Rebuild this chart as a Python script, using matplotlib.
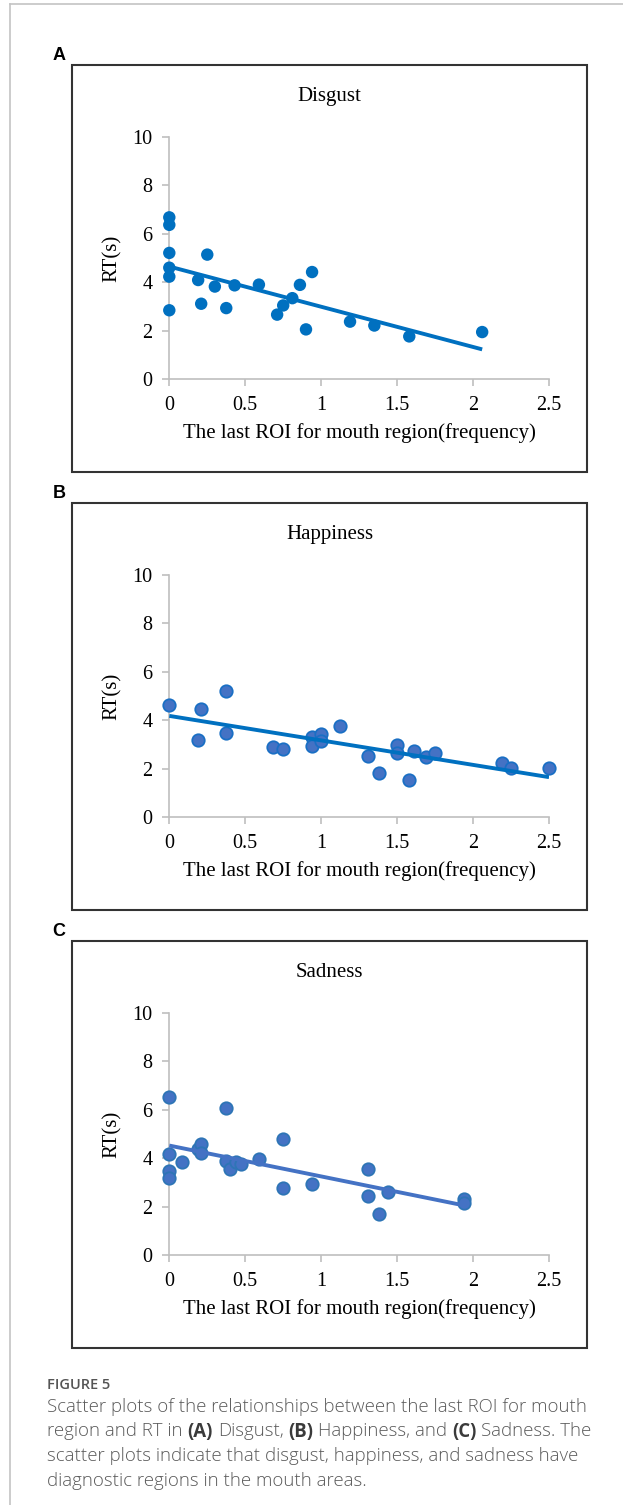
import numpy as np
import matplotlib
matplotlib.use("Agg")
from matplotlib import pyplot as plt
from matplotlib.patches import Rectangle
from matplotlib.lines import Line2D

W, H = 623, 1505

# last ROI for mouth region (frequency) vs RT (s)
disgust_x = [0, 0, 0, 0, 0, 0, 0.19, 0.21, 0.25, 0.30, 0.375, 0.43, 0.59, 0.71,
             0.75, 0.81, 0.86, 0.90, 0.94, 1.19, 1.35, 1.58, 2.06]
disgust_y = [6.68, 6.37, 5.21, 4.6, 4.23, 2.84, 4.09, 3.11, 5.14, 3.82, 2.93, 3.87,
             3.9, 2.66, 3.04, 3.34, 3.89, 2.05, 4.42, 2.37, 2.21, 1.76, 1.94]

happy_x = [0, 0.19, 0.21, 0.375, 0.375, 0.68, 0.75, 0.94, 0.94, 1.0, 1.0, 1.125,
           1.31, 1.38, 1.5, 1.5, 1.58, 1.61, 1.69, 1.75, 2.19, 2.25, 2.5]
happy_y = [4.63, 3.2, 4.47, 5.19, 3.46, 2.91, 2.81, 3.3, 2.94, 3.41, 3.14, 3.78,
           2.54, 1.83, 2.97, 2.66, 1.54, 2.74, 2.48, 2.65, 2.22, 2.04, 2.01]

sad_x = [0, 0, 0, 0, 0.085, 0.19, 0.21, 0.21, 0.375, 0.375, 0.40, 0.44, 0.47,
         0.59, 0.75, 0.75, 0.94, 1.31, 1.31, 1.38, 1.44, 1.94, 1.94]
sad_y = [6.53, 4.16, 3.48, 3.19, 3.84, 4.37, 4.58, 4.21, 6.08, 3.9, 3.56, 3.86, 3.78,
         3.97, 4.79, 2.77, 2.95, 3.56, 2.42, 1.70, 2.6, 2.32, 2.14]

panel_letters = ["A", "B", "C"]
panel_titles = ["Disgust", "Happiness", "Sadness"]
x_ticks = [0, 0.5, 1, 1.5, 2, 2.5]
x_tick_labels = ["0", "0.5", "1", "1.5", "2", "2.5"]
y_ticks = [0, 2, 4, 6, 8, 10]

panels = [
    (disgust_x, disgust_y, "#0070C0", "none", "#0070C0", 65),
    (happy_x, happy_y, "#4472C4", "#1A6FC4", "#0070C0", 503),
    (sad_x, sad_y, "#4472C4", "#2E75B6", "#4472C4", 941),
]

serif = "Liberation Serif"
fig = plt.figure(figsize=(W / 100, H / 100), dpi=100)


def fx(px):
    return px / W


def fy(py):
    return 1 - py / H


# light page frame at top and left
fig.add_artist(Line2D([fx(10), 1], [fy(4), fy(4)], color="#C4C4C4", lw=1.2))
fig.add_artist(Line2D([fx(10), fx(10)], [fy(4), 0], color="#C4C4C4", lw=1.2))

box_l, box_r, box_h = 72, 587, 407
for i, (xs, ys, fc, ec, lc, top) in enumerate(panels):
    fig.add_artist(Rectangle((fx(box_l), fy(top + box_h)), (box_r - box_l) / W, box_h / H,
                             transform=fig.transFigure, fill=False, ec="#333333", lw=1.5))
    fig.text(fx(59), fy(top - 10), panel_letters[i], family="Liberation Sans",
             weight="bold", fontsize=13, ha="center", va="center")
    fig.text(fx((box_l + box_r) / 2), fy(top + 32), panel_titles[i], family=serif,
             fontsize=15, ha="center", va="center")

    y10, y0 = top + 72, top + 314
    ax = fig.add_axes([fx(169.3), fy(y0), (549 - 169.3) / W, (y0 - y10) / H])
    ax.set_facecolor("none")
    ax.set_xlim(0, 2.5)
    ax.set_ylim(0, 10)
    ax.set_xticks(x_ticks)
    ax.set_xticklabels(x_tick_labels)
    ax.set_yticks(y_ticks)
    for s in ["top", "right"]:
        ax.spines[s].set_visible(False)
    for s in ["left", "bottom"]:
        ax.spines[s].set_color("#BFBFBF")
        ax.spines[s].set_linewidth(1.2)
    ax.tick_params(direction="out", length=5, width=1.2, color="#BFBFBF",
                   labelsize=14.5, pad=7)
    for lab in ax.get_xticklabels() + ax.get_yticklabels():
        lab.set_family(serif)
    ax.set_xlabel("The last ROI for mouth region(frequency)", family=serif,
                  fontsize=15, labelpad=6)
    ax.set_ylabel("RT(s)", family=serif, fontsize=15, labelpad=8)

    ax.scatter(xs, ys, s=80, c=fc, edgecolors=ec, linewidths=1.3, zorder=3,
               clip_on=False)
    # linear trend line over the data range
    k, b = np.polyfit(xs, ys, 1)
    tx = np.array([min(xs), max(xs)])
    ax.plot(tx, k * tx + b, color=lc, lw=2.8, zorder=4, solid_capstyle="butt")

# caption
sans = "Open Sans"
fig.text(fx(47), fy(1389), "FIGURE 5", family=sans, weight="semibold", fontsize=10.5,
         color="#555555", va="baseline")

caption = [
    [("Scatter plots of the relationships between the last ROI for mouth", False)],
    [("region and RT in", False), ("(A)", True), ("Disgust,", False), ("(B)", True),
     ("Happiness, and", False), ("(C)", True), ("Sadness. The", False)],
    [("scatter plots indicate that disgust, happiness, and sadness have", False)],
    [("diagnostic regions in the mouth areas.", False)],
]
renderer = fig.canvas.get_renderer()
cap_size = 13.4
probe1 = fig.text(0, 0, "x x", family=sans, fontsize=cap_size, weight="light")
probe2 = fig.text(0, 0, "xx", family=sans, fontsize=cap_size, weight="light")
space_w = (probe1.get_window_extent(renderer).width
           - probe2.get_window_extent(renderer).width)
probe1.remove()
probe2.remove()

base = 1412
for row in caption:
    x = 47
    for txt, bold in row:
        t = fig.text(fx(x), fy(base), txt, family=sans, fontsize=cap_size,
                     weight="bold" if bold else "light",
                     color="#3A3A3A" if bold else "#5A5A5A", va="baseline")
        x += t.get_window_extent(renderer).width + space_w
    base += 24.5

fig.savefig("out.png", dpi=100)
